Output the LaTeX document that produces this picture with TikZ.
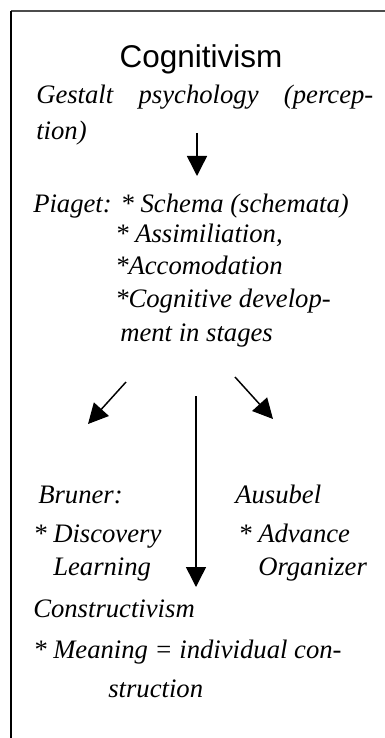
\documentclass[tikz,border=0pt]{standalone}
\usepackage{fontspec}
\setmainfont{Liberation Serif}
\newfontfamily\headfont{Liberation Sans}
\usetikzlibrary{arrows.meta}
\begin{document}
\begin{tikzpicture}[x=0.75pt,y=-0.75pt,
  txt/.style={anchor=base west,inner sep=0pt,font=\fontsize{20}{23}\selectfont\itshape},
  title/.style={anchor=base,inner sep=0pt,font=\fontsize{23.6}{27}\selectfont\headfont},
  flow/.style={line width=1.1pt,-{Triangle[width=15pt,length=15pt]}},
  frame/.style={line width=1.5pt}]
\useasboundingbox (0,0) rectangle (385,738);
% frame edges
\coordinate (tl) at (11,11);
\coordinate (tr) at (385,11);
\coordinate (bl) at (11,738);
\draw[frame,black!70] (tl) -- (tr);
\draw[frame] (tl) -- (bl);
% heading and text lines
\node[title] (head) at (201,68) {Cognitivism};
\node[txt] (gestalt) at (36,104) {\makebox[252.75pt][s]{Gestalt psychology (percep-}};
\node[txt] (gestalt2) at (36,140) {tion)};
\node[txt] (piaget) at (33,212) {Piaget: * Schema (schemata)};
\node[txt] (assim) at (115,242) {* Assimiliation,};
\node[txt] (accom) at (115,274) {*Accomodation};
\node[txt] (cogdev) at (115,307) {*Cognitive develop-};
\node[txt] (stages) at (120,341) {ment in stages};
\node[txt] (bruner) at (38,503) {Bruner:};
\node[txt] (ausubel) at (235,503) {Ausubel};
\node[txt] (disc) at (33,542) {* Discovery};
\node[txt] (adv) at (238,542) {* Advance};
\node[txt] (learn) at (53,575) {Learning};
\node[txt] (org) at (258,575) {Organizer};
\node[txt] (constr) at (33,617) {Constructivism};
\node[txt] (meaning) at (33,658) {* Meaning = individual con-};
\node[txt] (struct) at (108,697) {struction};
% arrow end points
\coordinate (a1s) at (197,133);
\coordinate (a1e) at (197,176);
\coordinate (a2s) at (126,382);
\coordinate (a2e) at (88,424);
\coordinate (a3s) at (235,377);
\coordinate (a3e) at (273,419);
\coordinate (a4s) at (196,396);
\coordinate (a4e) at (196,587);
\draw[flow] (a1s) -- (a1e);
\draw[flow] (a2s) -- (a2e);
\draw[flow] (a3s) -- (a3e);
\draw[flow] (a4s) -- (a4e);
\end{tikzpicture}
\end{document}
